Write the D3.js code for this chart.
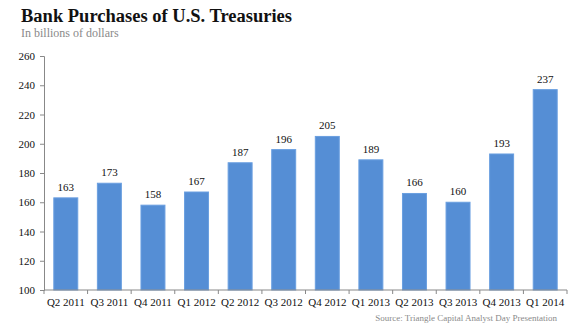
<!DOCTYPE html>
<html><head><meta charset="utf-8">
<script src="https://cdn.jsdelivr.net/npm/d3@7"></script>
<style>body{margin:0;background:#fff}svg{display:block}</style>
</head><body>
<script>
const categories = ["Q2 2011","Q3 2011","Q4 2011","Q1 2012","Q2 2012","Q3 2012","Q4 2012","Q1 2013","Q2 2013","Q3 2013","Q4 2013","Q1 2014"];
const values = [163,173,158,167,187,196,205,189,166,160,193,237];
const yTicks = [100,120,140,160,180,200,220,240,260];
const title = "Bank Purchases of U.S. Treasuries";
const subtitle = "In billions of dollars";
const source = "Source: Triangle Capital Analyst Day Presentation";

const W=580,H=331;
const m={left:44,right:13,top:56,bottom:41};
const svg=d3.select("body").append("svg").attr("width",W).attr("height",H);
const font="'Liberation Serif','DejaVu Serif',serif";
const x=d3.scaleBand().domain(categories).range([m.left,W-m.right]).paddingInner(0.45).paddingOuter(0.225);
const y=d3.scaleLinear().domain([100,260]).range([H-m.bottom,m.top]);

svg.append("text").attr("x",21).attr("y",22).attr("font-family",font).attr("font-weight","bold").attr("font-size",18.5).attr("fill","#111").text(title);
svg.append("text").attr("x",21).attr("y",37).attr("font-family",font).attr("font-size",12).attr("fill","#8a8a8a").text(subtitle);

svg.append("g").selectAll("rect").data(values).join("rect")
 .attr("x",(d,i)=>x(categories[i])).attr("width",x.bandwidth())
 .attr("y",d=>y(d)).attr("height",d=>y(100)-y(d))
 .attr("fill","#558ed5").attr("stroke","#6a9fe0").attr("stroke-width",1);

svg.append("g").selectAll("text").data(values).join("text")
 .attr("x",(d,i)=>x(categories[i])+x.bandwidth()/2).attr("y",d=>y(d)-7)
 .attr("text-anchor","middle").attr("font-family",font).attr("font-size",11).attr("fill","#111").text(d=>d);

const ya=svg.append("g").attr("transform",`translate(${m.left},0)`).call(d3.axisLeft(y).tickValues(yTicks).tickSize(4).tickPadding(5));
ya.attr("font-family",font);
ya.select(".domain").attr("stroke","#888");
ya.selectAll(".tick line").attr("stroke","#888");
ya.selectAll(".tick text").attr("font-family",font).attr("font-size",11).attr("fill","#111");

const xa=svg.append("g").attr("transform",`translate(0,${H-m.bottom})`);
xa.append("line").attr("x1",m.left).attr("x2",W-m.right).attr("stroke","#888");
const bounds=d3.range(categories.length+1).map(i=>m.left+i*(W-m.left-m.right)/categories.length);
xa.selectAll(".sep").data(bounds).join("line").attr("x1",d=>d).attr("x2",d=>d).attr("y1",0).attr("y2",4).attr("stroke","#888");
xa.selectAll(".lbl").data(categories).join("text")
 .attr("x",d=>x(d)+x.bandwidth()/2).attr("y",15.5).attr("text-anchor","middle")
 .attr("font-family",font).attr("font-size",11).attr("fill","#111").text(d=>d);

svg.append("text").attr("x",557).attr("y",321).attr("text-anchor","end").attr("font-family",font).attr("font-size",9).attr("fill","#8a8a8a").text(source);
</script>
</body></html>
